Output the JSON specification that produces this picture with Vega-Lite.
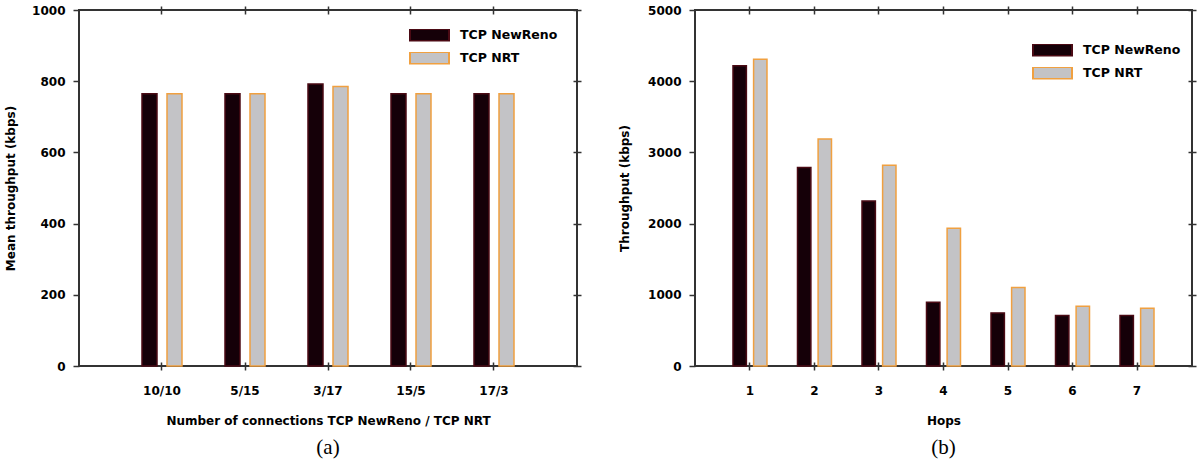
{
  "$schema": "https://vega.github.io/schema/vega-lite/v6.json",
  "padding": {"left": 3, "top": 3, "right": 3, "bottom": 0},
  "background": "white",
  "config": {
    "view": {"stroke": "#333333", "strokeWidth": 2},
    "font": "DejaVu Sans",
    "axis": {
      "labelFont": "DejaVu Sans", "labelFontWeight": "bold", "labelFontSize": 12, "labelColor": "#000000",
      "titleFont": "DejaVu Sans", "titleFontWeight": "bold", "titleFontSize": 12, "titleColor": "#000000",
      "grid": false, "tickColor": "#333333", "tickWidth": 1.5, "domainColor": "#333333"
    },
    "legend": {
      "orient": "none", "direction": "vertical", "symbolType": "M-1,-0.3077H1V0.3077H-1Z",
      "symbolSize": 1521, "symbolStrokeWidth": 2, "clipHeight": 12, "rowPadding": 10, "labelOffset": 10,
      "labelFont": "DejaVu Sans", "labelFontWeight": "bold", "labelFontSize": 12.5, "labelColor": "#000000",
      "padding": 0, "symbolOpacity": 1
    }
  },
  "spacing": 118,
  "bounds": "flush",
  "resolve": {
    "scale": {"x": "independent", "y": "independent", "xOffset": "independent", "fill": "independent", "stroke": "independent"},
    "legend": {"fill": "independent", "stroke": "independent"}
  },
  "hconcat": [
    {
      "width": 498, "height": 356,
      "data": {"values": [
        {"conn": "10/10", "series": "TCP NewReno", "value": 765},
        {"conn": "10/10", "series": "TCP NRT", "value": 765},
        {"conn": "5/15", "series": "TCP NewReno", "value": 765},
        {"conn": "5/15", "series": "TCP NRT", "value": 765},
        {"conn": "3/17", "series": "TCP NewReno", "value": 792},
        {"conn": "3/17", "series": "TCP NRT", "value": 785},
        {"conn": "15/5", "series": "TCP NewReno", "value": 765},
        {"conn": "15/5", "series": "TCP NRT", "value": 765},
        {"conn": "17/3", "series": "TCP NewReno", "value": 765},
        {"conn": "17/3", "series": "TCP NRT", "value": 765}
      ]},
      "title": {"text": "(a)", "orient": "bottom", "font": "Liberation Serif", "fontSize": 21, "fontWeight": "normal", "offset": 11, "color": "#000000"},
      "resolve": {"axis": {"x": "independent", "y": "independent"}},
      "layer": [
        {
          "mark": {"type": "bar", "strokeWidth": 1.5},
          "encoding": {
            "x": {"field": "conn", "type": "nominal", "sort": ["10/10", "5/15", "3/17", "15/5", "17/3"],
              "scale": {"paddingInner": 0.518, "paddingOuter": 0.759},
              "axis": {"orient": "bottom", "offset": -4, "tickSize": 8, "domain": false, "labelPadding": 15, "labelAngle": 0,
                "title": "Number of connections TCP NewReno / TCP NRT", "titlePadding": 19}},
            "xOffset": {"field": "series", "type": "nominal", "sort": ["TCP NewReno", "TCP NRT"], "scale": {"paddingInner": 0.4, "paddingOuter": 0}},
            "y": {"field": "value", "type": "quantitative", "scale": {"domain": [0, 1000], "nice": false},
              "axis": {"orient": "left", "values": [0, 200, 400, 600, 800, 1000], "format": "d", "tickSize": 6, "domain": false, "labelPadding": 8,
                "title": "Mean throughput (kbps)", "titlePadding": 14}},
            "fill": {"field": "series", "type": "nominal", "scale": {"domain": ["TCP NewReno", "TCP NRT"], "range": ["#150008", "#c3c3c6"]},
              "legend": {"title": null, "legendX": 330, "legendY": 19}},
            "stroke": {"field": "series", "type": "nominal", "scale": {"domain": ["TCP NewReno", "TCP NRT"], "range": ["#4a0a14", "#f0a040"]},
              "legend": {"title": null, "legendX": 330, "legendY": 19}}
          }
        },
        {
          "mark": {"type": "bar", "opacity": 0},
          "encoding": {
            "x": {"field": "conn", "type": "nominal", "sort": ["10/10", "5/15", "3/17", "15/5", "17/3"],
              "axis": {"orient": "top", "offset": -4, "tickSize": 8, "domain": false, "labels": false, "title": null}},
            "xOffset": {"field": "series", "type": "nominal", "sort": ["TCP NewReno", "TCP NRT"]},
            "y": {"field": "value", "type": "quantitative",
              "axis": {"orient": "right", "values": [0, 200, 400, 600, 800, 1000], "offset": -4, "tickSize": 8, "domain": false, "labels": false, "title": null}}
          }
        }
      ]
    },
    {
      "width": 497, "height": 356,
      "data": {"values": [
        {"hop": "1", "series": "TCP NewReno", "value": 4217},
        {"hop": "1", "series": "TCP NRT", "value": 4310},
        {"hop": "2", "series": "TCP NewReno", "value": 2787},
        {"hop": "2", "series": "TCP NRT", "value": 3187},
        {"hop": "3", "series": "TCP NewReno", "value": 2316},
        {"hop": "3", "series": "TCP NRT", "value": 2819},
        {"hop": "4", "series": "TCP NewReno", "value": 895},
        {"hop": "4", "series": "TCP NRT", "value": 1934},
        {"hop": "5", "series": "TCP NewReno", "value": 746},
        {"hop": "5", "series": "TCP NRT", "value": 1104},
        {"hop": "6", "series": "TCP NewReno", "value": 708},
        {"hop": "6", "series": "TCP NRT", "value": 839},
        {"hop": "7", "series": "TCP NewReno", "value": 708},
        {"hop": "7", "series": "TCP NRT", "value": 811}
      ]},
      "title": {"text": "(b)", "orient": "bottom", "font": "Liberation Serif", "fontSize": 21, "fontWeight": "normal", "offset": 11, "color": "#000000"},
      "resolve": {"axis": {"x": "independent", "y": "independent"}},
      "layer": [
        {
          "mark": {"type": "bar", "strokeWidth": 1.5},
          "encoding": {
            "x": {"field": "hop", "type": "nominal", "sort": ["1", "2", "3", "4", "5", "6", "7"],
              "scale": {"paddingInner": 0.473, "paddingOuter": 0.589},
              "axis": {"orient": "bottom", "offset": -4, "tickSize": 8, "domain": false, "labelPadding": 15, "labelAngle": 0,
                "title": "Hops", "titlePadding": 19}},
            "xOffset": {"field": "series", "type": "nominal", "sort": ["TCP NewReno", "TCP NRT"], "scale": {"paddingInner": 0.35, "paddingOuter": 0}},
            "y": {"field": "value", "type": "quantitative", "scale": {"domain": [0, 5000], "nice": false},
              "axis": {"orient": "left", "values": [0, 1000, 2000, 3000, 4000, 5000], "format": "d", "tickSize": 6, "domain": false, "labelPadding": 8,
                "title": "Throughput (kbps)", "titlePadding": 16}},
            "fill": {"field": "series", "type": "nominal", "scale": {"domain": ["TCP NewReno", "TCP NRT"], "range": ["#150008", "#c3c3c6"]},
              "legend": {"title": null, "legendX": 337, "legendY": 34}},
            "stroke": {"field": "series", "type": "nominal", "scale": {"domain": ["TCP NewReno", "TCP NRT"], "range": ["#4a0a14", "#f0a040"]},
              "legend": {"title": null, "legendX": 337, "legendY": 34}}
          }
        },
        {
          "mark": {"type": "bar", "opacity": 0},
          "encoding": {
            "x": {"field": "hop", "type": "nominal", "sort": ["1", "2", "3", "4", "5", "6", "7"],
              "axis": {"orient": "top", "offset": -4, "tickSize": 8, "domain": false, "labels": false, "title": null}},
            "xOffset": {"field": "series", "type": "nominal", "sort": ["TCP NewReno", "TCP NRT"]},
            "y": {"field": "value", "type": "quantitative",
              "axis": {"orient": "right", "values": [0, 1000, 2000, 3000, 4000, 5000], "offset": -4, "tickSize": 8, "domain": false, "labels": false, "title": null}}
          }
        }
      ]
    }
  ]
}
